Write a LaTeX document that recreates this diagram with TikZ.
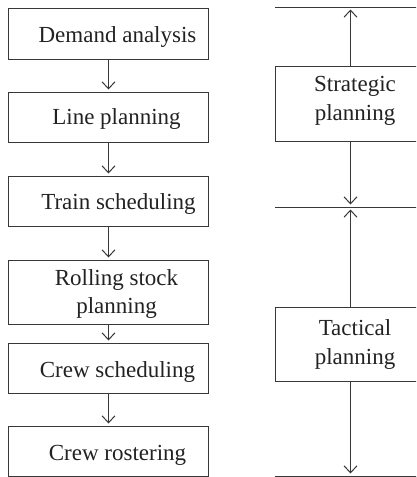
\documentclass[tikz,border=0pt]{standalone}
\usepackage{fontspec}
\setmainfont{Liberation Serif}
\usetikzlibrary{arrows.meta}
\definecolor{linecol}{HTML}{383838}
\definecolor{textcol}{HTML}{222222}
\tikzset{
  stepbox/.style={draw=linecol, line width=1pt, minimum width=200pt, inner sep=0pt, anchor=north west},
  levelbox/.style={draw=linecol, line width=1pt, minimum width=150pt, inner sep=0pt, anchor=north west},
  lbl/.style={text=textcol, font=\fontsize{23}{28.5}\selectfont, inner sep=0pt, align=center},
  flow/.style={draw=linecol, line width=1pt, -{Straight Barb[length=7pt,width=13pt,line width=1pt]}, shorten >=2.5pt},
  bar/.style={draw=linecol, line width=1pt},
}
\begin{document}
\begin{tikzpicture}[x=1pt,y=-1pt]
\useasboundingbox (0,0) rectangle (416,477);
\clip (0,0) rectangle (416,477);
% left chain
\node[stepbox, minimum height=51pt] (b1) at (8,8) {};
\node[stepbox, minimum height=50pt] (b2) at (8,92) {};
\node[stepbox, minimum height=50pt] (b3) at (8,176) {};
\node[stepbox, minimum height=64pt] (b4) at (8,260) {};
\node[stepbox, minimum height=50pt] (b5) at (8,343) {};
\node[stepbox, minimum height=50pt] (b6) at (8,426) {};
\node[lbl, anchor=base] (t1) at ([xshift=9pt,yshift=-8pt]b1.center) {Demand analysis};
\node[lbl, anchor=base] (t2) at ([xshift=8pt,yshift=-7pt]b2.center) {Line planning};
\node[lbl, anchor=base] (t3) at ([xshift=10pt,yshift=-7.5pt]b3.center) {Train scheduling};
\node[lbl] (t4) at ([xshift=8pt,yshift=-1.5pt]b4.center) {Rolling stock\\planning};
\node[lbl, anchor=base] (t5) at ([xshift=9pt,yshift=-8.5pt]b5.center) {Crew scheduling};
\node[lbl, anchor=base] (t6) at ([xshift=9pt,yshift=-9pt]b6.center) {Crew rostering};
\foreach \a/\b in {b1/b2,b2/b3,b3/b4,b4/b5,b5/b6}{
  \draw[flow] (\a.south) -- (\b.north);
}
% right levels
\coordinate (l1a) at (275,7);
\coordinate (l1b) at (420,7);
\coordinate (l2a) at (275,207);
\coordinate (l2b) at (420,207);
\coordinate (l3a) at (275,476);
\coordinate (l3b) at (420,476);
\draw[bar] (l1a) -- (l1b);
\draw[bar] (l2a) -- (l2b);
\draw[bar] (l3a) -- (l3b);
\node[levelbox, minimum height=75pt] (sp) at (275,66) {};
\node[levelbox, minimum height=74pt] (tp) at (275,307) {};
\node[lbl] (st) at ([xshift=4.5pt,yshift=3pt]sp.center) {Strategic\\planning};
\node[lbl] (tt) at ([xshift=4.5pt,yshift=0pt]tp.center) {Tactical\\planning};
\draw[flow] (sp.north) -- (sp.north |- l1a);
\draw[flow] (sp.south) -- (sp.south |- l2a);
\draw[flow] (tp.north) -- (tp.north |- l2a);
\draw[flow] (tp.south) -- (tp.south |- l3a);
\end{tikzpicture}
\end{document}
